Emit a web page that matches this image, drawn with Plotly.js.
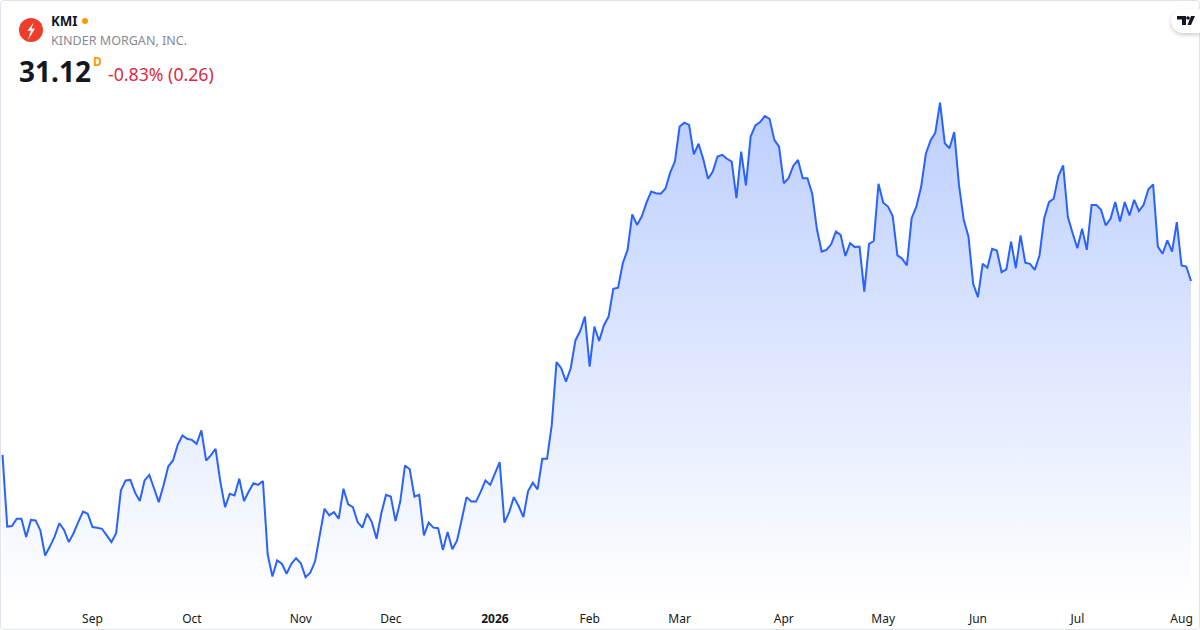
<!DOCTYPE html>
<html><head><meta charset="utf-8">
<script src="https://cdn.plot.ly/plotly-3.0.1.min.js"></script>
<style>
html,body{margin:0;padding:0;background:#fff;width:1200px;height:630px;overflow:hidden}
#chart{position:absolute;left:0;top:0;width:1200px;height:630px}
#frame{position:absolute;left:0;top:0;width:1198px;height:628px;border:1px solid #e0e3eb;border-radius:4px;pointer-events:none}
#tv{position:absolute;left:1171px;top:9px;width:29px;height:24px;background:#fff;border-radius:12px 0 0 12px;box-shadow:0 2px 4px rgba(0,0,0,.2)}
#tv svg{display:block}
</style></head><body>
<div id="chart"></div><div id="frame"></div>
<div id="tv"><svg width="29" height="24" viewBox="0 0 29 24"><path d="M6 7H15V16H11V10.5H6Z" fill="#131722"/><circle cx="17" cy="9" r="1.8" fill="#131722"/><path d="M20 7H24L20 16H16.5Z" fill="#131722"/></svg></div>
<script>
const closes = [
27.99,26.70,26.71,26.84,26.84,26.51,26.82,26.81,26.63,26.18,26.34,26.52,26.76,26.64,26.42,26.58,26.78,26.97,26.93,26.69,
26.68,26.66,26.54,26.42,26.58,27.35,27.53,27.54,27.31,27.16,27.53,27.63,27.39,27.14,27.44,27.78,27.89,28.17,28.34,28.28,
28.26,28.19,28.43,27.89,27.98,28.10,27.51,27.05,27.29,27.26,27.56,27.16,27.33,27.48,27.45,27.52,26.20,25.80,26.09,26.03,
25.85,26.03,26.13,26.04,25.79,25.87,26.07,26.52,27.02,26.90,26.96,26.84,27.38,27.10,27.05,26.78,26.68,26.93,26.78,26.48,
26.94,27.27,27.24,26.80,27.15,27.80,27.73,27.24,27.27,26.54,26.77,26.68,26.67,26.28,26.60,26.29,26.45,26.83,27.23,27.15,
27.15,27.33,27.53,27.45,27.66,27.86,26.77,26.96,27.23,27.07,26.87,27.34,27.49,27.37,27.92,27.92,28.53,29.66,29.55,29.31,
29.55,30.05,30.22,30.48,29.58,30.30,30.04,30.32,30.48,30.98,31.00,31.44,31.68,32.32,32.13,32.28,32.53,32.73,32.70,32.69,
32.78,33.07,33.27,33.90,33.97,33.93,33.40,33.59,33.31,32.96,33.09,33.36,33.39,33.32,33.27,32.61,33.45,32.84,33.72,33.92,
33.98,34.09,34.04,33.66,33.54,32.88,32.97,33.19,33.30,32.97,32.97,32.69,32.05,31.65,31.68,31.78,32.01,31.95,31.57,31.80,
31.73,31.74,30.93,31.79,31.84,32.87,32.53,32.46,32.29,31.58,31.52,31.40,32.25,32.46,32.81,33.41,33.65,33.79,34.33,33.60,
33.51,33.80,32.85,32.22,31.92,31.07,30.83,31.43,31.36,31.70,31.67,31.28,31.33,31.83,31.35,31.94,31.45,31.43,31.32,31.58,
32.25,32.54,32.60,33.01,33.20,32.27,31.98,31.71,32.06,31.68,32.49,32.49,32.40,32.12,32.24,32.54,32.19,32.54,32.30,32.58,
32.38,32.49,32.77,32.86,31.74,31.61,31.85,31.65,32.18,31.40,31.38,31.12];
const tradingDays = closes.map((_, i) => i);
const tickDays = [19,40,63,82,104,124,143,165,186,206,227,249];
const tickLabels = ['Sep','Oct','Nov','Dec','<b>2026</b>','Feb','Mar','Apr','May','Jun','Jul','Aug'];
const FONT = '"Noto Sans", sans-serif';

const trace = {
  x: tradingDays, y: closes, type: 'scatter', mode: 'lines',
  line: {color: '#2962ff', width: 2, shape: 'linear'},
  fill: 'tozeroy',
  fillgradient: {type: 'vertical', start: 34.33, stop: 25.31,
    colorscale: [[0, 'rgba(41,98,255,0.31)'], [1, 'rgba(41,98,255,0)']]},
  hoverinfo: 'skip'
};
const px = (x, y) => (x/1200) + ' ' + (1 - y/604);
const layout = {
  width: 1200, height: 630, margin: {l: 0, r: 0, t: 0, b: 26},
  paper_bgcolor: 'rgba(0,0,0,0)', plot_bgcolor: 'rgba(0,0,0,0)', showlegend: false,
  xaxis: {range: [-0.528, 252.9], showgrid: false, zeroline: false, showline: false,
    tickmode: 'array', tickvals: tickDays, ticktext: tickLabels, ticks: '', tickangle: 0,
    ticklabelstandoff: 6,
    tickfont: {family: FONT, size: 12, color: '#131722'}},
  yaxis: {range: [25.306, 36.178], showgrid: false, zeroline: false, showline: false, showticklabels: false},
  shapes: [
    {type: 'circle', xref: 'paper', yref: 'paper', x0: 19/1200, x1: 43/1200, y0: 1-42/604, y1: 1-18/604, fillcolor: '#ee3e2b', line: {width: 0}},
    {type: 'circle', xref: 'paper', yref: 'paper', x0: 82/1200, x1: 88/1200, y0: 1-24/604, y1: 1-18/604, fillcolor: '#ff9800', line: {width: 0}},
    {type: 'path', xref: 'paper', yref: 'paper', fillcolor: '#fff', line: {width: 0},
     path: 'M ' + px(33.5,22.5) + ' L ' + px(27.5,31) + ' L ' + px(31,30.5) + ' L ' + px(28,40) + ' L ' + px(35,28.5) + ' L ' + px(31.5,28.8) + ' Z'}
  ],
  annotations: [
    {text: '<b>KMI</b>', x: 51, y: 20.5, color: '#131722', size: 13.3},
    {text: 'KINDER MORGAN, INC.', x: 51, y: 41, color: '#868993', size: 12.55},
    {text: '<b>31.12</b>', x: 19, y: 71, color: '#131722', size: 28},
    {text: '<b>D</b>', x: 93, y: 62, color: '#ff9800', size: 12},
    {text: '-0.83% (0.26)', x: 108, y: 74, color: '#dc2a41', size: 17.7}
  ].map(a => ({text: a.text, xref: 'paper', yref: 'paper', x: a.x/1200, y: 1-a.y/604,
    xanchor: 'left', yanchor: 'middle', showarrow: false, borderpad: 0, borderwidth: 0,
    font: {family: FONT, size: a.size, color: a.color}}))
};
Plotly.newPlot('chart', [trace], layout, {staticPlot: true, displayModeBar: false});
</script></body></html>
